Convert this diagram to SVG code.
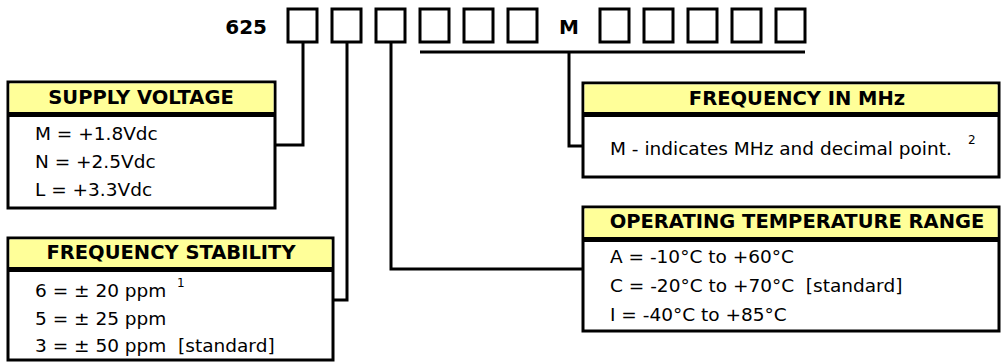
<svg xmlns="http://www.w3.org/2000/svg" width="1001" height="362" viewBox="0 0 1001 362">
<style>
.slot{fill:#fff;stroke:#000;stroke-width:3}
.frame{fill:#fff;stroke:#000;stroke-width:3}
.hdr{fill:#ffff99;stroke:none}
.div{stroke:#000;stroke-width:5}
.conn{fill:none;stroke:#000;stroke-width:3}
.h{font-family:"DejaVu Sans",Verdana,sans-serif;font-weight:bold;font-size:19.5px;fill:#000;text-anchor:middle}
.b{font-family:"DejaVu Sans",Verdana,sans-serif;font-size:18.5px;fill:#000}
.sup{font-family:"DejaVu Sans",Verdana,sans-serif;font-size:12px;fill:#000}
.top{font-family:"DejaVu Sans",Verdana,sans-serif;font-weight:bold;font-size:20px;fill:#000}
</style>
<rect width="1001" height="362" fill="#fff"/>
<g id="partnumber">
<text class="top" x="267" y="34" text-anchor="end">625</text>
<rect class="slot" x="288" y="9" width="29" height="33"/>
<rect class="slot" x="332" y="9" width="29" height="33"/>
<rect class="slot" x="376" y="9" width="29" height="33"/>
<rect class="slot" x="420" y="9" width="29" height="33"/>
<rect class="slot" x="464" y="9" width="29" height="33"/>
<rect class="slot" x="508" y="9" width="29" height="33"/>
<text class="top" x="569" y="34" text-anchor="middle">M</text>
<rect class="slot" x="600" y="9" width="29" height="33"/>
<rect class="slot" x="644" y="9" width="29" height="33"/>
<rect class="slot" x="688" y="9" width="29" height="33"/>
<rect class="slot" x="732" y="9" width="29" height="33"/>
<rect class="slot" x="776" y="9" width="29" height="33"/>
</g>
<g id="connectors">
<path class="conn" d="M303,42 V145 H275"/>
<path class="conn" d="M347,42 V300 H333"/>
<path class="conn" d="M391,42 V269 H583"/>
<path class="conn" d="M420,52 H805"/>
<path class="conn" d="M569,52 V146 H583"/>
</g>
<g id="supply-voltage">
<rect class="frame" x="8" y="82" width="267" height="126"/>
<rect class="hdr" x="9.5" y="83.5" width="264" height="29"/>
<line class="div" x1="8" y1="114.5" x2="275" y2="114.5"/>
<text class="h" x="141" y="104">SUPPLY VOLTAGE</text>
<text class="b" x="35" y="140">M = +1.8Vdc</text>
<text class="b" x="35" y="168">N = +2.5Vdc</text>
<text class="b" x="35" y="196">L = +3.3Vdc</text>
</g>
<g id="frequency-stability">
<rect class="frame" x="8" y="238" width="325" height="122"/>
<rect class="hdr" x="9.5" y="239.5" width="322" height="28"/>
<line class="div" x1="8" y1="269.5" x2="333" y2="269.5"/>
<text class="h" x="171" y="259">FREQUENCY STABILITY</text>
<text class="b" x="35" y="297">6 = ± 20 ppm</text>
<text class="sup" x="177" y="287">1</text>
<text class="b" x="35" y="325">5 = ± 25 ppm</text>
<text class="b" x="35" y="352" xml:space="preserve">3 = ± 50 ppm  [standard]</text>
</g>
<g id="frequency-mhz">
<rect class="frame" x="583" y="83" width="416" height="94"/>
<rect class="hdr" x="584.5" y="84.5" width="413" height="28"/>
<line class="div" x1="583" y1="114.5" x2="999" y2="114.5"/>
<text class="h" x="797" y="105">FREQUENCY IN MHz</text>
<text class="b" x="610" y="155">M - indicates MHz and decimal point.</text>
<text class="sup" x="968" y="144">2</text>
</g>
<g id="temperature-range">
<rect class="frame" x="583" y="207" width="416" height="124"/>
<rect class="hdr" x="584.5" y="208.5" width="413" height="29"/>
<line class="div" x1="583" y1="239.5" x2="999" y2="239.5"/>
<text class="h" x="797" y="228">OPERATING TEMPERATURE RANGE</text>
<text class="b" x="610" y="263">A = -10°C to +60°C</text>
<text class="b" x="610" y="292" xml:space="preserve">C = -20°C to +70°C  [standard]</text>
<text class="b" x="610" y="321">I = -40°C to +85°C</text>
</g>
</svg>
